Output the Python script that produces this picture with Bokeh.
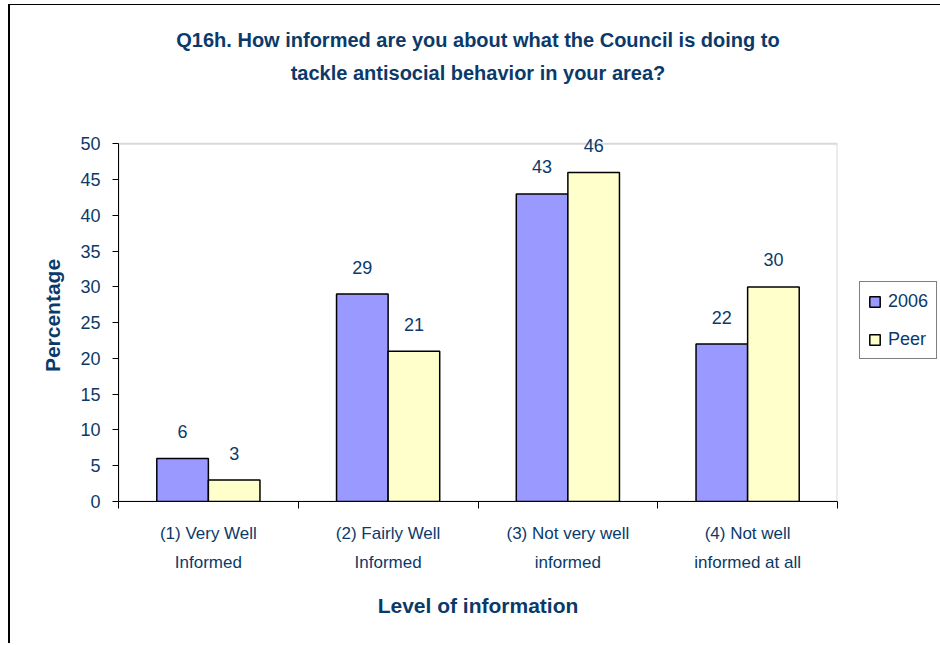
from bokeh.plotting import figure
from bokeh.layouts import row
from bokeh.models import (FactorRange, Range1d, LinearAxis, CategoricalAxis, FixedTicker,
                          ColumnDataSource, LabelSet, Legend, LegendItem, BoxAnnotation)
from bokeh.core.properties import value
from bokeh.transform import dodge
from bokeh.embed import file_html
from bokeh.resources import INLINE

categories = ["(1) Very Well\nInformed", "(2) Fairly Well\nInformed",
              "(3) Not very well\ninformed", "(4) Not well\ninformed at all"]
series_names = ["2006", "Peer"]
values_2006 = [6, 29, 43, 22]
values_peer = [3, 21, 46, 30]
y_ticks = [0, 5, 10, 15, 20, 25, 30, 35, 40, 45, 50]
y_max = 50
title_text = ("Q16h. How informed are you about what the Council is doing to\n"
              "tackle antisocial behavior in your area?")
x_title = "Level of information"
y_title = "Percentage"

NAVY = "#0B3A6A"
FONT = "Liberation Sans"
C2006 = "#9999FF"
CPEER = "#FFFFCC"

src = ColumnDataSource(dict(
    cat=categories,
    v2006=values_2006,
    vpeer=values_peer,
    t2006=[str(v) for v in values_2006],
    tpeer=[str(v) for v in values_peer],
))

p = figure(width=837, height=638, output_backend="svg", toolbar_location=None,
           x_range=FactorRange(factors=categories, range_padding=0),
           y_range=Range1d(0, 52), x_axis_location=None, y_axis_location=None,
           title_location=None, min_border_left=108, min_border_right=10,
           min_border_top=124, min_border_bottom=142)
p.xgrid.visible = False
p.ygrid.visible = False
p.outline_line_color = None
p.background_fill_color = "white"
p.border_fill_color = "white"

# chart title, drawn as the label of a bare axis above the plot
title_ax = LinearAxis(ticker=FixedTicker(ticks=[]), axis_line_color=None,
                      major_tick_line_color=None, minor_tick_line_color=None,
                      major_tick_in=0, major_tick_out=0, minor_tick_in=0, minor_tick_out=0,
                      major_label_standoff=0, axis_label=title_text,
                      axis_label_text_font=FONT, axis_label_text_font_size="20px",
                      axis_label_text_font_style="bold", axis_label_text_color=NAVY,
                      axis_label_text_line_height=1.5, axis_label_standoff=46)
p.add_layout(title_ax, "above")

# plot-area border (0..50)
p.add_layout(BoxAnnotation(left=0, right=len(categories), bottom=0, top=y_max,
                           fill_alpha=0, line_color="#808080", line_width=2,
                           level="underlay"))

# y axis
yax = LinearAxis(ticker=FixedTicker(ticks=y_ticks), bounds=(0, y_max), axis_label=y_title,
                 axis_label_text_font=FONT, axis_label_text_font_size="21px",
                 axis_label_text_font_style="bold", axis_label_text_color=NAVY,
                 axis_label_standoff=13,
                 major_label_text_font=FONT, major_label_text_font_size="18px",
                 major_label_text_color=NAVY, major_label_standoff=12,
                 major_tick_in=0, major_tick_out=6, minor_tick_out=0, minor_tick_in=0,
                 axis_line_color="black", major_tick_line_color="black")
p.add_layout(yax, "left")

# x axis: ticks on category boundaries (synthetic coordinates 0..4)
tick_ax = LinearAxis(ticker=FixedTicker(ticks=[0, 1, 2, 3, 4]),
                     major_label_overrides={0: "", 1: "", 2: "", 3: "", 4: ""},
                     major_label_text_font_size="1px", major_label_standoff=0,
                     major_tick_in=0, major_tick_out=7, minor_tick_in=0, minor_tick_out=0,
                     axis_line_color="black", major_tick_line_color="black")
p.add_layout(tick_ax, "below")
cat_ax = CategoricalAxis(axis_line_color=None, major_tick_line_color=None,
                         major_tick_in=0, major_tick_out=0,
                         major_label_text_font=FONT, major_label_text_font_size="17px",
                         major_label_text_color=NAVY, major_label_standoff=15,
                         major_label_text_line_height=1.57,
                         axis_label=x_title, axis_label_text_font=FONT,
                         axis_label_text_font_size="21px", axis_label_text_font_style="bold",
                         axis_label_text_color=NAVY, axis_label_standoff=19)
p.add_layout(cat_ax, "below")

bw = 0.287
r1 = p.vbar(x=dodge("cat", -bw / 2, range=p.x_range), top="v2006", width=bw, source=src,
            fill_color=C2006, line_color="black", line_width=1.5)
r2 = p.vbar(x=dodge("cat", bw / 2, range=p.x_range), top="vpeer", width=bw, source=src,
            fill_color=CPEER, line_color="black", line_width=1.5)

for xoff, col, tcol in ((-bw / 2, "v2006", "t2006"), (bw / 2, "vpeer", "tpeer")):
    p.add_layout(LabelSet(x=dodge("cat", xoff, range=p.x_range), y=col, text=tcol,
                          source=src, y_offset=27, text_align="center",
                          text_baseline="middle", text_font=value(FONT),
                          text_font_size=value("18px"), text_color=value(NAVY)))

# legend panel: a small companion figure holding only the legend.
# Its swatch renderers reuse the real data but are hidden (only the legend shows).
lf = figure(width=93, height=638, output_backend="svg", toolbar_location=None,
            x_axis_location=None, y_axis_location=None, title_location=None,
            min_border=0, x_range=FactorRange(factors=categories),
            y_range=Range1d(0, 52))
lf.xgrid.visible = False
lf.ygrid.visible = False
lf.outline_line_color = None
lf.background_fill_color = "white"
lf.border_fill_color = "white"
g1 = lf.vbar(x="cat", top="v2006", width=bw, source=src, fill_color=C2006,
             line_color="black", line_width=1.5, visible=False)
g2 = lf.vbar(x="cat", top="vpeer", width=bw, source=src, fill_color=CPEER,
             line_color="black", line_width=1.5, visible=False)
legend = Legend(items=[LegendItem(label=series_names[0], renderers=[g1]),
                       LegendItem(label=series_names[1], renderers=[g2])],
                location=(12, 142), margin=0, padding=8, spacing=16,
                glyph_width=13, glyph_height=13, label_standoff=7, label_height=22,
                label_text_font=FONT, label_text_font_size="18px", label_text_color=NAVY,
                border_line_color="black", border_line_width=1,
                background_fill_color="white", background_fill_alpha=1,
                click_policy="none")
lf.add_layout(legend)

layout = row(p, lf)
layout.styles = {"margin-left": "8px", "margin-top": "4px",
                 "border-left": "2px solid #000", "border-top": "1px solid #000"}

open("out.html", "w").write(file_html(layout, INLINE))
